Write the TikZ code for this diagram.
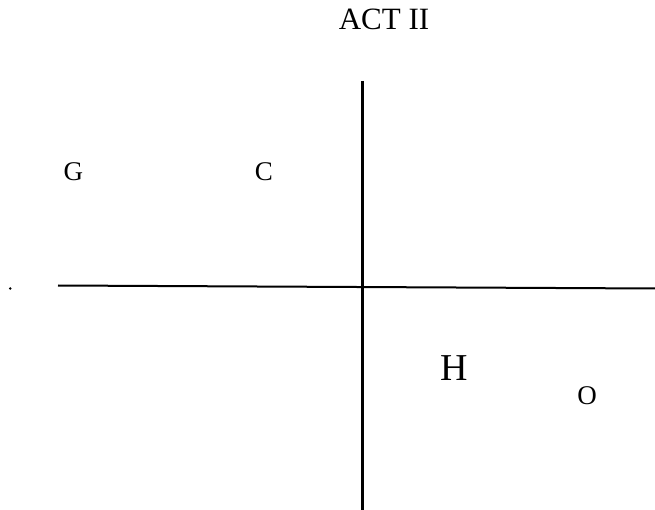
\documentclass[tikz,border=0pt]{standalone}
\usepackage{fontspec}
\setmainfont{Liberation Serif}
\usepackage{tikz}

\begin{document}
\begin{tikzpicture}[x=1pt,y=-1pt,
  letter/.style={inner sep=0pt,font=\fontsize{27}{31}\selectfont},
  bigletter/.style={inner sep=0pt,font=\fontsize{38}{42}\selectfont}]
\useasboundingbox (0,0) rectangle (655,510);
\node[inner sep=0pt,font=\fontsize{31}{35}\selectfont] (title) at (384,19.5) {ACT II};
\coordinate (top) at (362.5,81);
\coordinate (bottom) at (362.5,510);
\coordinate (left) at (58,285.5);
\coordinate (right) at (655,288.5);
\draw[line width=2.8pt] (top) -- (bottom);
\draw[line width=2pt] (left) -- (right);
\fill[black] (10.3,288.5) circle (1.4pt) coordinate (dot);
\node[letter] (G) at (73.3,172) {G};
\node[letter] (C) at (264,172) {C};
\node[bigletter] (H) at (454.5,368.5) {H};
\node[letter] (O) at (587,396) {O};
\end{tikzpicture}
\end{document}
